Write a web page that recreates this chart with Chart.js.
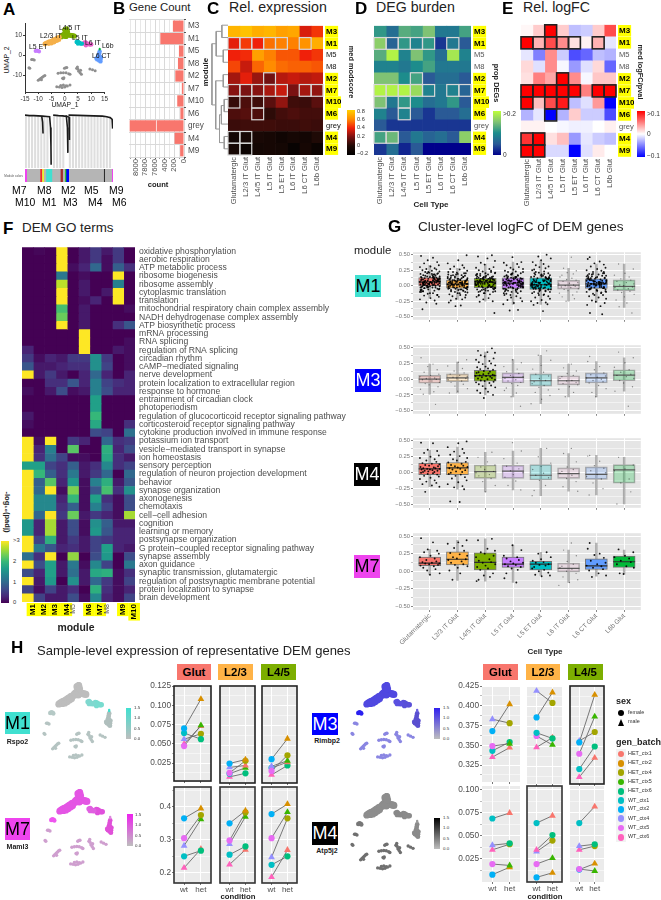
<!DOCTYPE html>
<html lang="en">
<head>
<meta charset="UTF-8">
<title>DEM figure</title>
<script src="https://cdn.jsdelivr.net/npm/chart.js"></script>
<style>
  html, body { margin: 0; padding: 0; background: #fff; }
  #fig { position: relative; width: 661px; height: 900px; overflow: hidden; font-family: "Liberation Sans", Arial, sans-serif; }
  #fig canvas { position: absolute; }
  .t { position: absolute; white-space: nowrap; line-height: 1; }
  .chip { position: absolute; display: flex; align-items: center; justify-content: center; }
</style>
</head>
<body>
<div id="fig"></div>
<script>
// ---------- data ----------
const modules = ['M3','M1','M5','M8','M2','M7','M10','M6','grey','M4','M9'];
const marked = ['M1','M2','M3','M4','M6','M7','M9','M10'];
const cellTypes = ['Glutamatergic','L2/3 IT Glut','L4/5 IT Glut','L5 IT Glut','L5 ET Glut','L6 IT Glut','L6 CT Glut','L6b Glut'];

const geneModules = ['M3','M1','M5','M8','M2','M7','M10','M6','grey','M4','M9'];
const geneCounts = [230,490,105,125,180,45,140,75,8124,195,80];
const countTickText = {0:'0',200:'200',400:'400',600:'7600',800:'7800',1000:'8000'};

const relExpr = [
  [.72,.76,.70,.72,.66,.68,.36,.44],
  [.38,.45,.40,.55,.58,.58,.62,.70],
  [.40,.42,.66,.58,.50,.50,.40,.44],
  [.47,.33,.53,.60,.54,.52,.52,.50],
  [.27,.38,.25,.18,.30,.33,.30,.32],
  [.22,.20,.22,.28,.33,.20,.27,.24],
  [.05,.10,.07,.13,.24,.07,.06,.13],
  [.10,.12,.10,.03,.08,.10,.08,.08],
  [.06,.07,.07,.07,.06,.06,.07,.06],
  [-.08,-.05,-.04,-.06,-.10,-.06,-.08,.00],
  [-.05,-.12,-.07,-.06,-.07,-.15,-.06,-.13]
];
const relExprBoxes = [[1,0],[1,1],[1,2],[1,3],[1,4],[1,6],[4,3],[5,0],[5,1],[5,2],[5,3],[5,4],[5,6],[5,7],[6,0],[6,2],[7,2],[9,0],[9,1],[10,0],[10,1]];

const degBurden = [
  [.11,.07,.13,.12,.15,.08,.08,.12],
  [.16,.06,.11,.09,.11,.03,.08,.05],
  [.13,.19,.09,.15,.11,.07,.18,.09],
  [.09,.09,.08,.10,.12,.08,.08,.08],
  [.15,.15,.10,.12,.05,.07,.07,.05],
  [.19,.19,.19,.17,.09,.08,.09,.06],
  [.15,.08,.11,.10,.07,.08,.11,.05],
  [.09,.05,.09,.05,.03,.05,.05,.07],
  [.05,.03,.03,.03,.03,.03,.03,.03],
  [.12,.14,.05,.08,.06,.07,.05,.16],
  [.03,.07,.02,.05,0,0,0,0]
];
const degBoxes = [[1,0],[1,1],[1,2],[1,3],[1,4],[1,6],[4,3],[5,0],[5,1],[5,2],[5,3],[5,4],[5,6],[5,7],[6,0],[6,2],[7,2],[9,0],[9,1]];

const relLogFC = [
  [.003,.02,.1,.02,-.025,-.02,.02,.07],
  [.1,.03,.07,.045,.012,.005,.03,-.01],
  [-.01,-.05,.045,-.02,-.07,-.06,-.025,-.03],
  [.015,-.012,.045,-.003,-.04,-.012,.015,-.06],
  [.012,.05,.035,.1,.045,-.003,.022,.022],
  [.1,.1,.1,.1,.1,.05,.1,.1],
  [.1,.025,.07,.09,-.025,-.012,.04,-.1],
  [-.03,-.01,-.1,-.03,.02,-.02,-.02,-.07],
  [.005,.005,0,-.003,-.006,-.006,0,.006],
  [.08,.1,.012,.025,-.04,-.01,-.02,-.025],
  [.1,.1,-.015,-.015,-.1,-.012,.008,0]
];
const logFCBoxes = [[0,2],[1,0],[1,1],[1,2],[1,3],[1,4],[1,6],[4,3],[5,0],[5,1],[5,2],[5,3],[5,4],[5,6],[5,7],[6,0],[6,2],[6,3],[7,2],[9,0],[9,1],[10,0],[10,1]];

const goModules = ['M1','M2','M3','M4','M5','M6','M7','M8','M9','M10'];
const goTerms = ['oxidative phosphorylation','aerobic respiration','ATP metabolic process','ribosome biogenesis','ribosome assembly','cytoplasmic translation','translation','mitochondrial respiratory chain complex assembly','NADH dehydrogenase complex assembly','ATP biosynthetic process','mRNA processing','RNA splicing','regulation of RNA splicing','circadian rhythm','cAMP\u2212mediated signaling','nerve development','protein localization to extracellular region','response to hormone','entrainment of circadian clock','photoperiodism','regulation of glucocorticoid receptor signaling pathway','corticosteroid receptor signaling pathway','cytokine production involved in immune response','potassium ion transport','vesicle\u2212mediated transport in synapse','ion homeostasis','sensory perception','regulation of neuron projection development','behavior','synapse organization','axonogenesis','chemotaxis','cell\u2212cell adhesion','cognition','learning or memory','postsynapse organization','G protein\u2212coupled receptor signaling pathway','synapse assembly','axon guidance','synaptic transmission, glutamatergic','regulation of postsynaptic membrane potential','protein localization to synapse','brain development'];
const goValues = [
  [0,.05,0,3,0,.2,.5,.2,.5,0],
  [0,0,0,3,0,.2,.5,.1,.5,0],
  [0,0,0,3,.1,.3,1,.1,.9,.4],
  [0,0,0,1.2,0,.1,0,0,3,0],
  [0,0,0,2.7,0,.2,0,0,1.3,0],
  [0,0,0,3,0,.2,0,.2,3,0],
  [0,0,0,3,0,.1,.3,0,3,0],
  [0,0,0,2.1,0,.2,0,0,0,.1],
  [0,0,0,2.3,0,.2,0,0,0,0],
  [0,0,0,3,0,.2,0,0,.4,.8],
  [0,0,0,0,0,3,0,0,0,0],
  [0,0,0,0,0,3,0,0,0,.1],
  [.3,0,0,0,0,3,0,0,.2,.1],
  [.5,.1,.3,.2,.5,.5,1.5,.5,0,.1],
  [.8,.2,.2,.3,.4,.4,1.5,.6,0,.1],
  [3,.2,.5,.2,0,.3,1,.3,0,.3],
  [0,0,.4,.4,.8,.3,1.3,.6,.4,.3],
  [.1,0,.2,.7,.1,.2,1.3,.7,.3,.3],
  [0,0,0,0,0,0,1.7,0,0,0],
  [0,0,0,0,0,0,1.7,0,0,0],
  [.2,0,0,0,0,0,2,0,0,0],
  [.1,0,0,0,0,0,1.8,0,0,.4],
  [0,0,0,0,0,0,.7,.6,0,1.1],
  [3,.1,3,0,.5,.3,0,1,.4,.5],
  [3,.3,1.3,0,2.2,0,0,1.9,.3,.7],
  [3,.4,1.1,.6,.1,.1,0,1.8,.4,.2],
  [1.7,1.7,.6,.4,.9,.2,.4,1.4,.4,.6],
  [3,2,.9,.4,1.2,.2,.5,1,0,1],
  [3,.9,2.2,.3,1.6,.1,1.3,1.9,.2,.8],
  [3,1,3,.1,2.4,.1,.8,2.1,.4,1.5],
  [3,1.4,1.4,.3,2,.1,1.7,.4,.1,.7],
  [3,1.4,1.4,.4,.9,.1,1.3,.6,.1,.7],
  [3,1,3,.5,2.3,.2,.5,.3,.1,2.6],
  [1.6,.3,2.6,.2,.7,.1,1.5,.9,.2,.2],
  [1.6,.3,2.6,.2,.7,.1,1.6,.8,.3,.3],
  [3,.6,1.9,.2,.5,.2,.6,.5,.3,.3],
  [3,1.2,.8,.3,.4,.2,.6,1.7,.3,.2],
  [1.1,.4,3,0,2.5,0,.7,1.6,0,.7],
  [3,.7,1.7,.2,1.2,.1,1.4,.6,0,1.2],
  [.7,.3,1.7,.2,1.1,.2,1.8,1.9,.1,.4],
  [3,.2,1.6,0,1.5,.2,1,.5,.1,.6],
  [.6,.1,.6,.2,.4,0,1.9,.4,.1,.3],
  [3,.6,.2,.2,.7,.1,1.4,.3,.1,.6]
];

// UMAP clusters
const umapL45 = [[-1,10],[-.5,10.5],[0,11],[.5,12.5],[0,13],[.7,13.5],[1,11],[1.5,10.3],[2.2,10.2],[3,10],[3.6,9.8],[.5,9.6],[-1.2,9.5],[0,9.8],[1,12.2]];
const umapL23 = [[-7.5,5.8],[-7,6.2],[-6.5,6.5],[-6,6.8],[-5.5,7],[-5,7.3],[-4.5,7.6],[-4,8],[-3.5,8.3],[-3,8.6],[-2.5,9],[-2,9.2],[-6,6],[-5,6.2],[-4,6.8],[-3,7.5],[-2.2,8]];
const umapL5IT = [[4.5,6.8],[5,7],[5.5,6.5],[6,6],[6.5,6],[5,6]];
const umapL6IT = [[7,6],[7.5,6.6],[8,6.5],[8.5,6],[9,5.8],[9.5,5.5],[10,5.6],[8,5.2]];
const umapL5ET = [[-11,2.2],[-10.5,2.5],[-10,2.3],[-9.7,2]];
const umapL6b = [[13.2,3],[13.2,3.4]];
const umapL6CT = [[13.2,2],[13,1],[12.8,0],[12.5,-1],[12.3,-2],[13,-2.5],[13.5,-2],[13.7,-1],[13.2,-.5],[12,-1.5],[13.5,-3]];
const umapOther = [[-12.5,-2],[-12,-2],[-11.5,-2.3],[-13.5,-6.2],[-13.2,-6.5],[-10,-12.5],[-9.5,-12],[-9,-11.5],[-8.5,-11],[-8,-10.5],[-7.5,-10.2],[-8.8,-12.3],[-2.5,-9],[-1.5,-8.8],[-.5,-8.7],[.5,-8.8],[1.5,-9.2],[2,-9.5],[-.8,-11.5],[-.5,-11.8],[-.3,-11.3],[-.1,-6.5],[.4,-6.2],[.8,-6.1],[4.5,-6.5],[5,-7],[5.3,-8],[5.8,-8.7],[6.3,-9.5],[6,-7.5],[4.8,-5.8],[9.5,-6.8],[10.5,-7.3],[11.5,-7.8],[-3,-15.8],[-2,-16],[-1,-16.2],[0,-16],[1,-15.5],[2,-15],[-1.5,-15.2],[-.5,-15],[.5,-15.3]];
const umapClusters = [umapOther,umapL23,umapL45,umapL5IT,umapL6IT,umapL5ET,umapL6b,umapL6CT];
const umapColors = ['#8f8f8f','#f5b04a','#7cae00','#00bfc4','#e85fc8','#c77cff','#00ba38','#619cff'];
const rspo2Colors = ['#b5c4c2','#bdbdbd','#bdbdbd','#7fd8cf','#78dccf','#b5c9c6','#40e0d0','#b0bfbd'];
const maml3Colors = ['#cf9fcf','#e455e4','#e455e4','#e060e0','#e050dc','#ee55ee','#dd88dd','#e050d8'];
const rimbp2Colors = ['#8a86e2','#5048e0','#5048e0','#5a50e0','#5a50d8','#2a20f0','#6a60e0','#5a4fd0'];
const atp5j2Colors = ['#6f6f6f','#8d8d8d','#8d8d8d','#888888','#8a8a8a','#777777','#999999','#8a8a8a'];

// dendrogram of panel A (x 0..100, height 0..1)
const dendroStripes = [1,4.5,8,11.5,15,18.5,22,25.5,33,36.5,40,43.5,51,54.5,58,61.5,65,68.5,72,75.5,79,82.5,86,89.5,93,96.5];
const dendroLeft = [[0,.98],[5,.97],[10,.97],[15,.965],[20,.96],[25,.955],[28,.95],[29,.75],[29.5,.4],[29.7,.06]];
const dendroBranch = [[19,.96],[20,.85],[20.5,.64]];
const dendroMid = [[32,.98],[38,.97],[43,.965],[47,.955],[48.2,.75],[48.7,.28]];
const dendroMid2 = [[46,.97],[50,.94],[50.5,.52]];
const dendroRight = [[49.4,.98],[60,.975],[78,.965],[88,.96],[93,.95],[97,.93],[99,.9],[99.6,.73]];
const stripWidths = [5,40,4,2,4,7,18,25,7,7,3,8,104,3,21,4];
const stripColors = ['#ee44ee','#b5b5b5','#ff0000','#b5b5b5','#ffff00','#b5b5b5','#40e0d0','#b5b5b5','#a52a2a','#b5b5b5','#00cc00','#0000ff','#b5b5b5','#222222','#b5b5b5','#ee44ee'];

// merges of the module tree in panel C: row a, height a, row b, height b, join height
const treeMerges = [[0,0,1,0,13],[2,0,3,0,10],[.5,13,2.5,10,25],[4,0,5,0,10],[6,0,7,0,8],[6.5,8,8,0,14],[9,0,10,0,8],[7.25,14,9.5,8,18],[4.5,10,8.4,18,26],[1.5,25,6.45,26,34]];

// cluster-level logFC: q1, median, q3, low whisker, high whisker
const m1Boxes = [[-.005,.06,.13,-.2,.33],[-.04,.025,.09,-.22,.28],[-.03,.06,.12,-.25,.35],[-.045,.04,.125,-.3,.38],[-.06,.015,.125,-.3,.4],[-.055,.01,.085,-.25,.28],[-.045,.03,.11,-.27,.35],[-.08,-.01,.095,-.35,.35]];
const m3Boxes = [[-.065,0,.06,-.24,.24],[-.04,.02,.085,-.22,.27],[-.03,.055,.14,-.25,.43],[-.06,.03,.1,-.28,.31],[-.11,-.025,.085,-.39,.38],[-.09,-.025,.055,-.28,.24],[-.06,.02,.1,-.28,.28],[-.025,.065,.15,-.19,.34]];
const m4Boxes = [[-.03,.06,.145,-.22,.35],[-.03,.075,.16,-.26,.4],[-.09,.015,.12,-.3,.32],[-.09,.025,.115,-.27,.34],[-.115,-.04,.125,-.36,.38],[-.09,-.015,.075,-.29,.3],[-.105,-.025,.09,-.35,.27],[-.165,.045,.125,-.49,.24]];
const m7Boxes = [[.08,.115,.2,-.05,.31],[.09,.17,.275,-.13,.44],[.02,.125,.26,-.14,.46],[.055,.1,.2,-.16,.37],[.02,.1,.14,-.06,.27],[-.01,.04,.115,-.16,.3],[.025,.075,.175,-.07,.4],[.055,.135,.215,-.04,.3]];
const m1Strong = [1,1,1,1,1,0,1,0];
const m3Strong = [0,0,1,0,0,0,0,0];
const m4Strong = [1,1,0,0,0,0,0,0];
const m7Strong = [1,1,1,1,1,0,1,1];
const boxColors = ['#F8766D','#FFB347','#7CAE00','#C77CFF','#00BFC4','#F0B8D8','#619CFF','#00BA38'];

const jitterX = [-.31,.12,-.07,.27,-.2,.33,.03,-.35,.18,-.12,.24,-.26,.08,.35,-.16,-.02,.3,-.33,.15,-.23,.21,-.09,.36,.01,-.29,.1,-.18,.28,-.05,.17,-.24];

// the thick middle of the dense M1 clouds
const m1Core = [.14,.02,.09,-.03,.11,.05,-.06,.17,.01,.07,-.02,.12,.04,-.08,.15,.03,.08,-.04,.1,.06,-.1,.18,0,.13,-.01,.05,-.05,.16,.02,.09,-.07,.12,.04,-.03,.2,.07,-.12,.1,.01,.06,-.15,.22,.03,-.09,.14,.08,-.02,.19,.05,-.06];
const m1Pts = [
  [.48,.45,.41,.38,.36,.33,.31,.3,.28,.27,.26,.25,.24,.23,.22,.21,.2,.19,.18,.17,.16,.15,.15,.14,.13,.13,.12,.11,.11,.1,.1,.09,.09,.08,.08,.07,.07,.06,.06,.06,.05,.05,.05,.04,.04,.03,.03,.02,.02,.01,.01,0,0,-.01,-.01,-.02,-.03,-.04,-.05,-.06,-.08,-.09,-.1,-.12,-.13,-.15,-.16,-.18,-.2,-.22,-.24,-.27,-.29,-.38,.19,.12,.08,.03,.1,-.03],
  [.49,.41,.36,.33,.31,.29,.27,.26,.24,.22,.21,.2,.18,.17,.16,.14,.13,.12,.11,.1,.09,.09,.08,.07,.06,.06,.05,.05,.04,.04,.03,.03,.02,.02,.01,.01,0,0,-.01,-.02,-.02,-.03,-.04,-.05,-.06,-.07,-.08,-.1,-.11,-.12,-.14,-.15,-.17,-.19,-.21,-.22,-.24,-.27,-.32,-.33,.06,.02,-.04,.11],
  [.49,.47,.44,.4,.37,.34,.3,.29,.27,.25,.24,.23,.21,.2,.19,.18,.16,.15,.14,.13,.13,.12,.11,.1,.1,.09,.09,.08,.07,.07,.06,.06,.05,.05,.04,.03,.03,.02,.01,0,-.01,-.02,-.03,-.04,-.05,-.06,-.08,-.09,-.1,-.12,-.14,-.16,-.18,-.2,-.22,-.25,-.26,-.44,.08,.04,.11,-.01],
  [.46,.38,.37,.35,.33,.3,.29,.27,.26,.24,.23,.22,.2,.18,.17,.16,.15,.14,.13,.12,.12,.11,.1,.09,.08,.08,.07,.06,.05,.05,.04,.03,.02,.01,.01,0,-.01,-.02,-.03,-.04,-.05,-.06,-.08,-.09,-.1,-.12,-.13,-.15,-.17,-.19,-.2,-.23,-.25,-.28,-.3,-.39,-.4,.06,.03],
  [.5,.47,.44,.41,.38,.35,.33,.31,.3,.28,.26,.25,.23,.21,.2,.18,.17,.15,.14,.13,.12,.11,.1,.09,.08,.06,.05,.04,.03,.02,.02,.01,0,-.01,-.02,-.03,-.04,-.05,-.06,-.07,-.09,-.1,-.12,-.14,-.15,-.17,-.19,-.21,-.23,-.25,-.27,-.28,-.3,-.31,-.41,.07,.01,-.04],
  [.46,.28,.24,.21,.19,.17,.14,.12,.1,.09,.07,.05,.04,.03,.01,0,-.01,-.02,-.03,-.05,-.06,-.08,-.1,-.12,-.15,-.18,-.21,-.25],
  [.46,.43,.39,.36,.34,.31,.29,.27,.25,.24,.22,.2,.19,.18,.16,.15,.13,.12,.11,.1,.09,.08,.07,.06,.05,.05,.04,.03,.03,.02,.01,0,-.01,-.02,-.03,-.04,-.05,-.06,-.08,-.1,-.11,-.13,-.15,-.17,-.19,-.21,-.24,-.26,-.28,-.31,-.33,-.44,-.46,.04,.08,.01],
  [.35,.27,.2,.17,.14,.11,.09,.07,.05,.03,.01,0,-.02,-.03,-.05,-.07,-.09,-.11,-.14,-.18,-.23,-.28,-.34,-.44]
];
const m3Pts = [
  [.34,.24,.2,.15,.11,.08,.06,.04,.02,.01,0,-.01,-.03,-.05,-.07,-.09,-.12,-.16,-.2,-.24,-.4],
  [.31,.27,.21,.17,.13,.1,.08,.06,.04,.03,.02,.01,-.01,-.03,-.05,-.08,-.11,-.15,-.19,-.22],
  [.49,.45,.43,.42,.38,.36,.33,.31,.29,.27,.25,.24,.22,.2,.19,.17,.16,.15,.13,.12,.11,.1,.09,.08,.07,.06,.06,.05,.05,.04,.03,.02,.01,0,-.01,-.02,-.03,-.04,-.05,-.06,-.08,-.1,-.11,-.13,-.15,-.18,-.2,-.22,-.25,-.3],
  [.31,.26,.2,.16,.12,.09,.06,.04,.03,.01,-.01,-.03,-.05,-.07,-.1,-.14,-.18,-.22,-.28,-.43],
  [.45,.38,.3,.22,.16,.11,.08,.05,.01,-.02,-.04,-.07,-.1,-.13,-.17,-.21,-.26,-.32,-.39],
  [.24,.18,.13,.09,.06,.04,.01,-.02,-.03,-.05,-.07,-.09,-.12,-.16,-.21,-.28],
  [.36,.28,.2,.15,.1,.07,.05,.03,.02,0,-.02,-.04,-.06,-.1,-.15,-.21,-.28],
  [.43,.34,.26,.19,.15,.11,.08,.06,.04,.01,-.02,-.06,-.12,-.19,-.43]
];
const m4Pts = [
  [.47,.46,.36,.34,.31,.27,.25,.23,.21,.19,.17,.15,.14,.13,.12,.11,.1,.09,.08,.07,.07,.06,.06,.05,.05,.04,.03,.03,.02,.01,.01,0,-.01,-.02,-.03,-.05,-.06,-.08,-.1,-.12,-.14,-.16,-.18,-.2,-.22,-.3],
  [.49,.46,.4,.37,.33,.31,.28,.26,.23,.21,.19,.17,.16,.14,.12,.11,.1,.09,.08,.07,.06,.05,.04,.02,.01,0,-.02,-.03,-.05,-.07,-.09,-.12,-.15,-.18,-.21,-.23,-.26,-.45,-.46],
  [.32,.24,.17,.12,.09,.05,.02,0,-.03,-.05,-.09,-.14,-.2,-.3],
  [.47,.34,.22,.15,.1,.06,.03,0,-.03,-.07,-.13,-.2,-.27],
  [.38,.25,.15,.1,.05,-.01,-.04,-.08,-.12,-.2,-.28,-.36],
  [.38,.3,.17,.09,.05,.02,-.01,-.04,-.09,-.14,-.22,-.29],
  [.27,.26,.18,.11,.07,.03,0,-.03,-.06,-.1,-.16,-.25,-.35],
  [.24,.12,.06,.03,-.1,-.16,-.3,-.49]
];
const m7Pts = [
  [.47,.41,.31,.29,.27,.25,.22,.2,.18,.16,.14,.13,.12,.11,.11,.1,.09,.08,.07,.05,.03,.01,-.03,-.05],
  [.44,.41,.39,.36,.33,.29,.26,.24,.22,.2,.18,.17,.16,.14,.12,.1,.09,.07,.05,.01,-.03,-.12],
  [.46,.44,.32,.29,.27,.25,.22,.2,.17,.15,.13,.12,.1,.08,.06,.04,.02,-.03,-.06,-.08,-.12,-.14],
  [.37,.3,.22,.2,.18,.16,.14,.12,.11,.1,.09,.07,.06,.04,.02,-.03,-.1,-.16],
  [.27,.25,.2,.17,.15,.13,.12,.1,.09,.08,.06,.04,.02,0,-.02,-.05,-.06,-.07],
  [.4,.3,.22,.14,.1,.07,.05,.03,0,-.03,-.08,-.12,-.16,-.2],
  [.4,.32,.25,.23,.19,.15,.12,.1,.08,.07,.05,.03,.01,-.03,-.06,-.08],
  [.31,.27,.22,.2,.18,.15,.13,.1,.07,.05,-.03,-.04]
];

// sample-level pairs: wt batch, wt value, het batch, het value
const batchNames = ['HET_ctx1','HET_ctx2','HET_ctx4','HET_ctx5','HET_ctx6','WT_ctx1','WT_ctx2','WT_ctx4','WT_ctx5','WT_ctx6'];
const batchKeys = ['H1','H2','H4','H5','H6','W1','W2','W4','W5','W6'];
const batchColors = ['#F8766D','#D89000','#A3A500','#39B600','#00BF7D','#00BFC4','#00B0F6','#9590FF','#E76BF3','#FF62BC'];
const maleBatches = ['H1','H2','H5','W4','W6'];

const rspo2Glut = [['W2',.070,'H2',.108],['W1',.064,'H6',.056],['W4',.056,'H4',.063],['W5',.047,'H5',.074],['W6',.050,'H1',.073]];
const rspo2L23 = [['W2',.0265,'H2',.0315],['W5',.0145,'H4',.030],['W4',.0215,'H1',.024],['W1',.0135,'H5',.021],['W6',.0095,'H6',.014]];
const rspo2L45 = [['W2',.032,'H2',.058],['W5',.017,'H4',.037],['W4',.023,'H5',.030],['W1',.021,'H1',.028],['W6',.012,'H6',.024]];
const maml3Glut = [['W2',.365,'H2',.395],['W5',.305,'H4',.375],['W4',.282,'H5',.362],['W1',.250,'H6',.267],['W6',.215,'H1',.272]];
const maml3L23 = [['W2',.350,'H2',.388],['W5',.298,'H4',.383],['W4',.287,'H5',.370],['W1',.255,'H6',.280],['W6',.225,'H1',.270]];
const maml3L45 = [['W2',.378,'H2',.408],['W5',.305,'H5',.384],['W4',.247,'H4',.365],['W1',.224,'H6',.250],['W6',.187,'H1',.269]];
const rimbp2Glut = [['W2',.368,'H2',.402],['W4',.383,'H4',.378],['W5',.349,'H5',.352],['W1',.343,'H6',.354],['W6',.335,'H1',.347]];
const rimbp2L23 = [['W2',.386,'H2',.417],['W4',.419,'H4',.404],['W1',.367,'H6',.360],['W5',.363,'H5',.352],['W6',.349,'H1',.361]];
const rimbp2L45 = [['W2',.355,'H2',.414],['W5',.341,'H5',.387],['W4',.357,'H4',.368],['W1',.322,'H6',.350],['W6',.312,'H1',.336]];
const atp5j2Glut = [['W1',.069,'H1',.075],['W4',.040,'H6',.042],['W6',.035,'H4',.041],['W5',.0195,'H5',.018],['W2',.008,'H2',.016]];
const atp5j2L23 = [['W1',.064,'H1',.072],['W6',.035,'H6',.051],['W4',.033,'H4',.045],['W5',.0195,'H5',.026],['W2',.005,'H2',.010]];
const atp5j2L45 = [['W1',.064,'H1',.082],['W4',.039,'H6',.041],['W6',.035,'H4',.039],['W5',.014,'H5',.012],['W2',.0135,'H2',.020]];

// ---------- helpers ----------
const fig = document.getElementById('fig');
const FONT = '"Liberation Sans", Arial, sans-serif';
Chart.defaults.font.family = FONT;
Chart.defaults.animation = false;

function txt(s, x, y, o = {}) {
  const d = document.createElement('div');
  d.className = 't';
  d.textContent = s;
  d.style.left = x + 'px';
  d.style.top = y + 'px';
  d.style.fontSize = (o.size || 8) + 'px';
  d.style.color = o.color || '#000';
  if (o.bold) d.style.fontWeight = 'bold';
  const ax = o.anchor === 'center' ? '-50%' : o.anchor === 'right' ? '-100%' : '0';
  d.style.transform = `translate(${ax},-50%)` + (o.rot ? ` rotate(${o.rot}deg)` : '');
  fig.appendChild(d);
  return d;
}

function chip(s, x0, y0, x1, y1, bg, color, size, bold) {
  const d = document.createElement('div');
  d.className = 'chip';
  d.textContent = s;
  Object.assign(d.style, { left: x0 + 'px', top: y0 + 'px', width: (x1 - x0) + 'px', height: (y1 - y0) + 'px', background: bg, color: color, fontSize: size + 'px', fontWeight: bold ? 'bold' : 'normal' });
  fig.appendChild(d);
}

function ramp(stops) {
  const rgb = h => [1, 3, 5].map(i => parseInt(h.substr(i, 2), 16));
  return v => {
    if (v <= stops[0][0]) return stops[0][1];
    for (let i = 1; i < stops.length; i++) {
      if (v <= stops[i][0]) {
        const t = (v - stops[i - 1][0]) / (stops[i][0] - stops[i - 1][0]);
        const a = rgb(stops[i - 1][1]), b = rgb(stops[i][1]);
        return `rgb(${a.map((c, k) => Math.round(c + (b[k] - c) * t)).join(',')})`;
      }
    }
    return stops[stops.length - 1][1];
  };
}

function colorbar(x0, y0, x1, y1, stops, labels, size, lx) {
  const lo = stops[0][0], hi = stops[stops.length - 1][0];
  const css = stops.map(s => `${s[1]} ${((s[0] - lo) / (hi - lo) * 100).toFixed(1)}%`).join(',');
  const d = document.createElement('div');
  Object.assign(d.style, { position: 'absolute', left: x0 + 'px', top: y0 + 'px', width: (x1 - x0) + 'px', height: (y1 - y0) + 'px', background: `linear-gradient(to top,${css})` });
  fig.appendChild(d);
  labels.forEach(l => txt(l[0], lx, l[1], { size: size, color: '#333' }));
}

// canvas whose plot area lands on [x0,y0,x1,y1]; axes: which sides carry an axis
function place(x0, y0, x1, y1, m, axes = '') {
  const c = document.createElement('canvas');
  const w = x1 - x0 + m.l + m.r, h = y1 - y0 + m.t + m.b;
  c.width = Math.round(w); c.height = Math.round(h);
  Object.assign(c.style, { left: (x0 - m.l) + 'px', top: (y0 - m.t) + 'px', width: Math.round(w) + 'px', height: Math.round(h) + 'px' });
  fig.appendChild(c);
  return { canvas: c, padding: { left: axes.includes('l') ? 0 : m.l, right: axes.includes('r') ? 0 : m.r, top: axes.includes('t') ? 0 : m.t, bottom: axes.includes('b') ? 0 : m.b } };
}
const fit = size => s => { if (s.isHorizontal()) s.height = size; else s.width = size; };
const baseOpts = padding => ({ responsive: false, animation: false, events: [], layout: { padding }, plugins: { legend: { display: false }, tooltip: { enabled: false } } });

function panel(bg, box, lw) {
  return {
    id: 'panel',
    beforeDraw(chart) {
      const a = chart.chartArea, c = chart.ctx;
      c.save(); c.fillStyle = bg; c.fillRect(a.left, a.top, a.width, a.height); c.restore();
    },
    afterDraw(chart) {
      if (!box) return;
      const a = chart.chartArea, c = chart.ctx;
      c.save(); c.strokeStyle = box; c.lineWidth = lw || 1.5; c.strokeRect(a.left, a.top, a.width, a.height); c.restore();
    }
  };
}

// major ticks plus the minor ones half a step between them
function gridTicks(min, max, majors) {
  const step = majors[1] - majors[0], out = [];
  for (let k = -1; k <= majors.length * 2 + 2; k++) {
    const v = majors[0] + k * step / 2;
    if (v < min - 1e-9 || v > max + 1e-9) continue;
    out.push({ value: v, major: k >= 0 && k % 2 === 0 && k / 2 < majors.length });
  }
  return out;
}

function heatmap(box, m, rows, cols, vals, colorOf, cellBoxes, boxColor, boxWidth, o) {
  const p = place(box[0], box[1], box[2], box[3], m, 'rb');
  new Chart(p.canvas, {
    type: 'bar',
    data: {
      labels: rows,
      datasets: cols.map((c, j) => ({
        label: c,
        data: rows.map(() => 1),
        backgroundColor: rows.map((r, i) => colorOf(vals[i][j])),
        stack: 'cells', barPercentage: 1, categoryPercentage: 1, borderWidth: 0
      }))
    },
    options: Object.assign(baseOpts(p.padding), {
      indexAxis: 'y',
      scales: {
        x: {
          type: 'linear', stacked: true, min: 0, max: cols.length, offset: false,
          grid: { display: false, drawTicks: false, offset: false }, border: { display: false },
          afterBuildTicks: s => { s.ticks = cols.map((c, j) => ({ value: j + .5 })); },
          afterFit: fit(m.b),
          ticks: o.xTicks(cols)
        },
        y: {
          stacked: true, position: 'right',
          grid: { display: false, drawTicks: false }, border: { display: false },
          afterFit: fit(m.r),
          ticks: o.yTicks(rows)
        }
      }
    }),
    plugins: [{
      id: 'cellBoxes',
      afterDatasetsDraw(chart) {
        if (!cellBoxes) return;
        const c = chart.ctx;
        c.save(); c.strokeStyle = boxColor; c.lineWidth = boxWidth;
        cellBoxes.forEach(([r, col]) => {
          const el = chart.getDatasetMeta(col).data[r];
          c.strokeRect(el.base, el.y - el.height / 2, el.x - el.base, el.height);
        });
        c.restore();
      }
    }]
  });
}

const cellXTicks = cols => ({
  autoSkip: false, minRotation: 90, maxRotation: 90, padding: 2, color: '#4d4d4d', font: { size: 7.6 },
  callback: v => cols[Math.round(v - .5)]
});
const moduleYTicks = plainColor => rows => ({
  autoSkip: false, padding: 3, crossAlign: 'near',
  font: c => (marked.includes(rows[c.index]) ? { size: 8, weight: 'bold' } : { size: 7.6 }),
  color: c => (marked.includes(rows[c.index]) ? '#000' : plainColor),
  showLabelBackdrop: c => marked.includes(rows[c.index]),
  backdropColor: '#ffff00', backdropPadding: 1,
  callback: (v, i) => rows[i]
});

function umap(box, xr, yr, colors, radii, axes, m) {
  const p = place(box[0], box[1], box[2], box[3], m, axes ? 'lb' : '');
  const ax = (ticks, size) => ({
    type: 'linear', min: ticks.min, max: ticks.max, display: !!axes,
    grid: { drawOnChartArea: false, tickLength: 2, color: '#333' }, border: { color: '#333' },
    afterBuildTicks: s => { s.ticks = ticks.at.map(v => ({ value: v })); },
    afterFit: fit(size), ticks: { autoSkip: false, maxRotation: 0, padding: 1, color: '#333', font: { size: 6.4 }, callback: v => v }
  });
  new Chart(p.canvas, {
    type: 'scatter',
    data: { datasets: umapClusters.map((pts, i) => ({ data: pts.map(q => ({ x: q[0], y: q[1] })), backgroundColor: colors[i], pointRadius: radii[i], borderWidth: 0 })) },
    options: Object.assign(baseOpts(p.padding), { scales: { x: ax(xr, m.b), y: ax(yr, m.l) } })
  });
}

function boxRow(box, boxes, strong, pts, showLabels, core) {
  const m = { l: 32, r: 2, t: 2, b: showLabels ? 44 : 4 };
  const p = place(box[0], box[1], box[2], box[3], m, 'lb');
  const fade = (hex, a) => hex + Math.round(a * 255).toString(16).padStart(2, '0');
  const datasets = [
    { type: 'bar', grouped: false, order: 5, barThickness: 1.8, backgroundColor: 'rgba(120,120,120,.55)', data: boxes.map((b, i) => ({ x: i + 1, y: [b[3], b[4]] })) },
    { type: 'bar', grouped: false, order: 4, barThickness: 22, borderWidth: 1, borderSkipped: false,
      backgroundColor: boxes.map((b, i) => (strong[i] ? boxColors[i] : fade(boxColors[i], .25))),
      borderColor: boxes.map((b, i) => (strong[i] ? '#777777' : '#a8a8a8')),
      data: boxes.map((b, i) => ({ x: i + 1, y: [b[0], b[2]] })) },
    { type: 'scatter', order: 3, pointStyle: 'line', pointRadius: 11, pointBorderWidth: 1.2,
      pointBorderColor: boxes.map((b, i) => (strong[i] ? '#2d2d2d' : '#5a5a5a')),
      data: boxes.map((b, i) => ({ x: i + 1, y: b[1] })) }
  ];
  pts.forEach((ys, i) => {
    const all = core && strong[i] ? ys.concat(core) : ys;
    datasets.push({
      type: 'scatter', order: 1, pointRadius: strong[i] ? .95 : .7, borderWidth: 0,
      backgroundColor: strong[i] ? 'rgba(0,0,0,.9)' : 'rgba(0,0,0,.42)',
      data: all.map((y, k) => ({ x: i + 1 + jitterX[(k + i * 5) % jitterX.length], y }))
    });
  });
  const yMin = -.55, yMax = .54;
  new Chart(p.canvas, {
    type: 'bar',
    data: { datasets },
    options: Object.assign(baseOpts(p.padding), {
      scales: {
        x: {
          type: 'linear', min: .4, max: 8.6, offset: false, afterFit: fit(m.b),
          grid: { offset: false, color: '#fff', lineWidth: 1, tickColor: '#888', tickLength: 2 }, border: { display: false },
          afterBuildTicks: s => { s.ticks = cellTypes.map((c, i) => ({ value: i + 1 })); },
          ticks: { display: showLabels, autoSkip: false, minRotation: 45, maxRotation: 45, padding: 0, color: '#777', font: { size: 6.6 }, callback: v => cellTypes[Math.round(v) - 1] }
        },
        y: {
          type: 'linear', min: yMin, max: yMax, afterFit: fit(m.l),
          grid: { color: '#fff', tickColor: '#888', tickLength: 2, lineWidth: c => (c.tick && c.tick.major ? 1 : .5) }, border: { display: false },
          afterBuildTicks: s => { s.ticks = gridTicks(yMin, yMax, [-.5, -.25, 0, .25, .5]); },
          ticks: { autoSkip: false, padding: 1, color: '#777', font: { size: 5.8 }, callback: (v, i, t) => (t[i].major ? v.toFixed(2).replace('-', '\u2212') : '') }
        }
      }
    }),
    plugins: [panel('#e5e5e5')]
  });
}

function pairPanel(box, pairs, yMin, yMax, majors, digits, o) {
  const m = { l: o.left ? 30 : 2, r: 2, t: 6, b: o.bottom ? 12 : 4 };
  const p = place(box[0], box[1], box[2], box[3], m, 'lb');
  const colorOf = k => batchColors[batchKeys.indexOf(k)];
  const shape = k => (maleBatches.includes(k) ? 'triangle' : 'circle');
  const sized = k => (maleBatches.includes(k) ? 3.9 : 3.1);
  new Chart(p.canvas, {
    type: 'line',
    data: {
      datasets: pairs.map(q => ({
        data: [{ x: 1, y: q[1] }, { x: 2, y: q[3] }],
        borderColor: '#6a6a6a', borderWidth: .9, tension: 0,
        pointStyle: [shape(q[0]), shape(q[2])],
        pointRadius: [sized(q[0]), sized(q[2])],
        pointBackgroundColor: [colorOf(q[0]), colorOf(q[2])],
        pointBorderColor: [colorOf(q[0]), colorOf(q[2])],
        pointBorderWidth: 0
      }))
    },
    options: Object.assign(baseOpts(p.padding), {
      scales: {
        x: {
          type: 'linear', min: .4, max: 2.6, afterFit: fit(m.b),
          grid: { color: '#fff', lineWidth: 1, tickColor: '#777', tickLength: 2 }, border: { display: false },
          afterBuildTicks: s => { s.ticks = [{ value: 1 }, { value: 2 }]; },
          ticks: { display: !!o.bottom, autoSkip: false, maxRotation: 0, padding: 0, color: '#4d4d4d', font: { size: 8 }, callback: v => (v === 1 ? 'wt' : 'het') }
        },
        y: {
          type: 'linear', min: yMin, max: yMax, afterFit: fit(m.l),
          grid: { color: '#fff', tickColor: '#777', tickLength: o.left ? 2 : 0, lineWidth: c => (c.tick && c.tick.major ? 1 : .5) }, border: { display: false },
          afterBuildTicks: s => { s.ticks = gridTicks(yMin, yMax, majors); },
          ticks: { display: !!o.left, autoSkip: false, padding: 1, color: '#4d4d4d', font: { size: 8.3 }, callback: (v, i, t) => (t[i].major ? v.toFixed(digits) : '') }
        }
      }
    }),
    plugins: [panel('#ebebeb', o.box, 1.6)]
  });
}

// ---------- panel A ----------
txt('A', 3, 9, { size: 17, bold: true });
umap([25, 21, 106, 92], { min: -15, max: 15.1, at: [-15, -10, -5, 0, 5, 10, 15] }, { min: -18.5, max: 16, at: [-10, 0, 10] }, umapColors, [1.5, 2.4, 2.6, 2.2, 2.2, 2, 1, 2.2], true, { l: 12, r: 3, t: 2, b: 10 });
txt('UMAP_2', 7, 60, { size: 6.8, anchor: 'center', rot: -90, color: '#222' });
txt('UMAP_1', 65, 105, { size: 6.8, anchor: 'center', color: '#222' });
[['L4/5 IT', 59, 28], ['L2/3 IT', 40, 36], ['L5 ET', 29, 47], ['L5 IT', 72, 38], ['L6 IT', 85, 43], ['L6b', 102, 46], ['L6 CT', 92, 56]]
  .forEach(l => txt(l[0], l[1], l[2], { size: 6.9, color: '#111' }));

(function dendroA() {
  const p = place(25, 114, 113, 168, { l: 3, r: 1, t: 1, b: 1 });
  const pts = a => a.map(q => ({ x: q[0], y: q[1] }));
  const line = a => ({ type: 'line', data: pts(a), borderColor: '#1a1a1a', borderWidth: 1.6, pointRadius: 0, tension: 0, order: 1 });
  new Chart(p.canvas, {
    type: 'bar',
    data: {
      datasets: [
        line(dendroLeft), line(dendroBranch), line(dendroMid), line(dendroMid2), line(dendroRight),
        { type: 'bar', order: 2, barThickness: 1.4, backgroundColor: '#dedede', data: dendroStripes.map(x => ({ x, y: .95 })) }
      ]
    },
    options: Object.assign(baseOpts(p.padding), {
      scales: {
        x: { type: 'linear', min: 0, max: 100, display: false, offset: false, grid: { offset: false } },
        y: { type: 'linear', min: 0, max: 1, display: false }
      }
    })
  });
  const s = place(25, 169, 113, 182, { l: 0, r: 0, t: 0, b: 0 });
  new Chart(s.canvas, {
    type: 'bar',
    data: { labels: ['Module colors'], datasets: stripWidths.map((w, i) => ({ data: [w], backgroundColor: stripColors[i], stack: 's', barPercentage: 1, categoryPercentage: 1, borderWidth: 0 })) },
    options: Object.assign(baseOpts(s.padding), {
      indexAxis: 'y',
      scales: { x: { type: 'linear', stacked: true, min: 0, max: 262, display: false }, y: { stacked: true, display: false } }
    })
  });
  txt('Module colors', 23, 175.5, { size: 3, anchor: 'right', color: '#555' });
})();
[['M7', 12, 191], ['M8', 37, 191], ['M2', 61, 191], ['M5', 84, 191], ['M9', 109, 191], ['M10', 15, 203], ['M1', 42, 203], ['M3', 63, 203], ['M4', 88, 203], ['M6', 112, 203]]
  .forEach(l => txt(l[0], l[1], l[2], { size: 10.4 }));

// ---------- panel B ----------
txt('B', 113, 8, { size: 17, bold: true });
txt('Gene Count', 129, 8, { size: 11.4, color: '#222' });
(function geneBars() {
  const m = { l: 2, r: 22, t: 2, b: 24 };
  const p = place(129, 15, 184, 157, m, 'rb');
  const shown = geneCounts.map(v => (v > 7000 ? v - 7000 : v));
  new Chart(p.canvas, {
    type: 'bar',
    data: {
      labels: geneModules,
      datasets: [
        { data: geneModules.map((g, i) => (g === 'grey' ? [565, 580] : null)), backgroundColor: '#ffffff', grouped: false, order: 1, barPercentage: 1, categoryPercentage: .9 },
        { data: shown, backgroundColor: '#F8766D', grouped: false, order: 2, barPercentage: 1, categoryPercentage: .9 }
      ]
    },
    options: Object.assign(baseOpts(p.padding), {
      indexAxis: 'y',
      scales: {
        x: {
          type: 'linear', min: 0, max: 1138, reverse: true, afterFit: fit(m.b),
          grid: { color: '#d9d9d9', lineWidth: c => (c.index % 2 ? .6 : 1), tickColor: '#555', tickLength: 2 }, border: { display: false },
          afterBuildTicks: s => { s.ticks = [0, 100, 200, 300, 400, 500, 600, 700, 800, 900, 1000, 1100].map(v => ({ value: v })); },
          ticks: { autoSkip: false, minRotation: 90, maxRotation: 90, padding: 0, color: '#4d4d4d', font: { size: 7.6 }, callback: v => countTickText[v] || '' }
        },
        y: {
          position: 'right', afterFit: fit(m.r),
          grid: { color: '#d9d9d9', tickColor: '#555', tickLength: 2 }, border: { display: false },
          ticks: { autoSkip: false, padding: 2, color: '#4d4d4d', font: { size: 8.2 } }
        }
      }
    })
  });
})();
txt('count', 158, 185, { size: 7.6, bold: true, anchor: 'center', color: '#222' });

// ---------- panel C ----------
txt('C', 207, 8, { size: 17, bold: true });
txt('Rel. expression', 229, 7, { size: 14.2, color: '#222' });
const exprStops = [[-.2, '#000000'], [0, '#1f0a06'], [.2, '#7a1212'], [.4, '#f0200a'], [.6, '#ff8c00'], [.8, '#ffd000']];
const logfcStops = [[-.1, '#0000ff'], [0, '#ffffff'], [.1, '#ff0000']];
const degStops = [[0, '#00008b'], [.05, '#2a5a96'], [.1, '#1d8c8c'], [.15, '#7fc274'], [.2, '#bfff3a']];
const viridisStops = [[0, '#440154'], [.33, '#482878'], [.67, '#3e4a89'], [1, '#31688e'], [1.33, '#26828e'], [1.67, '#1f9e89'], [2, '#35b779'], [2.33, '#6ece58'], [2.67, '#b5de2b'], [3, '#fde725']];
heatmap([228, 19, 323, 155], { l: 1, r: 18, t: 1, b: 50 }, modules, cellTypes, relExpr, ramp(exprStops), relExprBoxes, '#d8d8d8', 1.2, { xTicks: cellXTicks, yTicks: moduleYTicks('#111') });
(function tree() {
  const p = place(211, 19, 228, 155, { l: 0, r: 0, t: 0, b: 0 });
  new Chart(p.canvas, {
    type: 'scatter',
    data: { datasets: treeMerges.map(q => ({ data: [{ x: q[1], y: q[0] }, { x: q[4], y: q[0] }, { x: q[4], y: q[2] }, { x: q[3], y: q[2] }], showLine: true, borderColor: '#999', borderWidth: 1, pointRadius: 0 })) },
    options: Object.assign(baseOpts(p.padding), {
      scales: {
        x: { type: 'linear', min: 0, max: 36, reverse: true, display: false },
        y: { type: 'linear', min: -.5, max: 10.5, reverse: true, display: false }
      }
    })
  });
})();
txt('module', 206, 72, { size: 8, bold: true, anchor: 'center', rot: -90, color: '#222' });
colorbar(347, 110, 355, 155, exprStops, [['0.8', 112], ['0.6', 119.5], ['0.4', 128], ['0.2', 137], ['0', 145.5], ['\u22120.2', 154]], 5.6, 357);
txt('med modscore', 351, 72, { size: 7.4, bold: true, anchor: 'center', rot: 90, color: '#222' });

// ---------- panel D ----------
txt('D', 355, 8, { size: 17, bold: true });
txt('DEG burden', 376, 7, { size: 14.2, color: '#222' });
heatmap([374, 19, 471, 155], { l: 1, r: 18, t: 1, b: 50 }, modules, cellTypes, degBurden, ramp(degStops), degBoxes, '#d8d8d8', 1.2, { xTicks: cellXTicks, yTicks: moduleYTicks('#555') });
colorbar(493, 111, 501, 155, degStops, [['>0.2', 113.5], ['0', 155]], 6.6, 503);
txt('prop DEGs', 496, 83, { size: 7.4, bold: true, anchor: 'center', rot: 90, color: '#222' });
txt('Cell Type', 431, 205, { size: 8, bold: true, anchor: 'center', color: '#222' });

// ---------- panel E ----------
txt('E', 502, 8, { size: 17, bold: true });
txt('Rel. logFC', 523, 7, { size: 14.2, color: '#222' });
heatmap([521, 18, 616, 157], { l: 1, r: 18, t: 1, b: 50 }, modules, cellTypes, relLogFC, ramp(logfcStops), logFCBoxes, '#222222', 1.6, { xTicks: cellXTicks, yTicks: moduleYTicks('#555') });
colorbar(637, 111, 645, 157, logfcStops, [['>0.1', 113.5], ['0', 134], ['\u22120.1', 155.5]], 6.6, 647);
txt('med logFC/pval', 640, 72, { size: 7.4, bold: true, anchor: 'center', rot: 90, color: '#222' });

// ---------- panel F ----------
txt('F', 3, 228, { size: 17, bold: true });
txt('DEM GO terms', 22, 228, { size: 13.4, color: '#222' });
heatmap([22, 239.3, 135, 602.7], { l: 1, r: 214, t: 1, b: 24 }, goTerms, goModules, goValues, ramp(viridisStops), null, null, 0, {
  xTicks: cols => ({
    autoSkip: false, minRotation: 90, maxRotation: 90, padding: 2,
    font: c => (marked.includes(cols[c.index]) ? { size: 8, weight: 'bold' } : { size: 7 }),
    color: c => (marked.includes(cols[c.index]) ? '#000' : '#555'),
    showLabelBackdrop: c => marked.includes(cols[c.index]), backdropColor: '#ffff00', backdropPadding: 1,
    callback: v => cols[Math.round(v - .5)]
  }),
  yTicks: rows => ({ autoSkip: false, padding: 4, crossAlign: 'near', color: '#4d4d4d', font: { size: 8.6 }, callback: (v, i) => rows[i] })
});
colorbar(1, 541, 9, 603, viridisStops, [['>3', 541], ['2', 562], ['1', 583], ['0', 603]], 5.8, 13);
txt('-log\u2081\u2080(padj)', 7, 512, { size: 7.6, bold: true, anchor: 'center', rot: 90, color: '#222' });
txt('module', 76, 628, { size: 10.4, bold: true, anchor: 'center', color: '#222' });

// ---------- panel G ----------
txt('G', 388, 226, { size: 17, bold: true });
txt('Cluster-level logFC of DEM genes', 418, 227, { size: 13.6, color: '#222' });
txt('module', 354, 251, { size: 11.4, color: '#222' });
boxRow([413, 242, 651, 328], m1Boxes, m1Strong, m1Pts, false, m1Core);
boxRow([413, 335, 651, 422], m3Boxes, m3Strong, m3Pts, false);
boxRow([413, 428, 651, 516], m4Boxes, m4Strong, m4Pts, false);
boxRow([413, 523, 651, 610], m7Boxes, m7Strong, m7Pts, true);
chip('M1', 355, 275, 381, 297, '#40e0d0', '#000', 18);
chip('M3', 355, 369, 381, 392, '#0000ff', '#fff', 18);
chip('M4', 354, 463, 380, 486, '#000000', '#fff', 18);
chip('M7', 354, 555, 380, 578, '#ee44ee', '#000', 18);
txt('Cell Type', 545, 652, { size: 8, bold: true, anchor: 'center', color: '#222' });

// ---------- panel H ----------
txt('H', 11, 647, { size: 17, bold: true });
txt('Sample-level expression of representative DEM genes', 37, 650, { size: 13, color: '#222' });
chip('M1', 5, 712, 30, 734, '#40e0d0', '#000', 18);
txt('Rspo2', 17.5, 741, { size: 7, bold: true, anchor: 'center', color: '#222' });
chip('M7', 5, 818, 30, 840, '#ee44ee', '#000', 18);
txt('Maml3', 17.5, 846, { size: 7, bold: true, anchor: 'center', color: '#222' });
chip('M3', 312, 713, 338, 735, '#0000ff', '#fff', 18);
txt('Rimbp2', 327, 740, { size: 7, bold: true, anchor: 'center', color: '#222' });
chip('M4', 312, 822, 338, 845, '#000000', '#fff', 18);
txt('Atp5j2', 327, 850, { size: 7, bold: true, anchor: 'center', color: '#222' });

const miniX = { min: -16, max: 16, at: [] }, miniY = { min: -17.9, max: 14.9, at: [] };
const none = { l: 0, r: 0, t: 0, b: 0 };
const miniRadii = [1.7, 3.4, 3.6, 2.6, 2.6, 2.2, 1.2, 2.4];
umap([34, 678, 120, 766], miniX, miniY, rspo2Colors, miniRadii, false, none);
umap([35, 785, 121, 873], miniX, miniY, maml3Colors, miniRadii, false, none);
umap([342, 678, 428, 766], miniX, miniY, rimbp2Colors, miniRadii, false, none);
umap([342, 789, 428, 877], miniX, miniY, atp5j2Colors, miniRadii, false, none);
const scaleLabels = y0 => [['1.5', y0], ['1.0', y0 + 10.3], ['0.5', y0 + 20.7], ['0.0', y0 + 31]];
colorbar(126, 708, 131, 739, [[0, '#bebebe'], [1.5, '#40e0d0']], scaleLabels(708), 4.4, 134);
colorbar(127, 814, 133, 846, [[0, '#bebebe'], [1.5, '#ee22ee']], scaleLabels(815), 4.4, 135);
colorbar(434, 708, 440, 739, [[0, '#bebebe'], [1.5, '#3020ee']], scaleLabels(708), 4.4, 443);
colorbar(434, 818, 440, 849, [[0, '#bebebe'], [1.5, '#000000']], scaleLabels(818), 4.4, 443);

[['Glut', 177, 211, '#F8766D'], ['L2/3', 218, 253, '#FFB347'], ['L4/5', 261, 296, '#7CAE00'], ['Glut', 483, 518, '#F8766D'], ['L2/3', 526, 560, '#FFB347'], ['L4/5', 568, 603, '#7CAE00']]
  .forEach(c => chip(c[0], c[1], 664, c[2], 680, c[3], '#000', 11.4, true));

const leftX = [[174, 213], [218, 257], [260, 299]];
const rightX = [[482, 522], [525, 564], [568, 606]];
const rspo2 = [rspo2Glut, rspo2L23, rspo2L45], maml3 = [maml3Glut, maml3L23, maml3L45];
const rimbp2 = [rimbp2Glut, rimbp2L23, rimbp2L45], atp5j2 = [atp5j2Glut, atp5j2L23, atp5j2L45];
leftX.forEach((c, i) => {
  pairPanel([c[0], 686, c[1], 783], rspo2[i], .0017, .125, [.025, .05, .075, .1, .125], 3, { left: i === 0, box: '#222' });
  pairPanel([c[0], 787, c[1], 883], maml3[i], .169, .46, [.2, .3, .4], 1, { left: i === 0, bottom: true, box: '#333' });
});
rightX.forEach((c, i) => {
  pairPanel([c[0], 686, c[1], 784], rimbp2[i], .3035, .425, [.325, .35, .375, .4, .425], 3, { left: i === 0, box: i === 2 ? '#222' : null });
  pairPanel([c[0], 786, c[1], 882], atp5j2[i], 0, .1043, [.025, .05, .075, .1], 3, { left: i === 0, bottom: true, box: i === 1 ? '#333' : null });
});
txt('condition', 238, 897, { size: 7.8, bold: true, anchor: 'center', color: '#222' });
txt('condition', 545, 897, { size: 7.8, bold: true, anchor: 'center', color: '#222' });

// legends on the right
txt('sex', 616, 701, { size: 9, bold: true, color: '#222' });
function mark(x, y, color, male, size) {
  const d = document.createElement('div');
  d.style.position = 'absolute';
  if (male) {
    Object.assign(d.style, { left: (x - size / 2) + 'px', top: (y - size / 2) + 'px', width: 0, height: 0, borderLeft: (size / 2) + 'px solid transparent', borderRight: (size / 2) + 'px solid transparent', borderBottom: size + 'px solid ' + color });
  } else {
    Object.assign(d.style, { left: (x - size / 2) + 'px', top: (y - size / 2) + 'px', width: size + 'px', height: size + 'px', borderRadius: '50%', background: color });
  }
  fig.appendChild(d);
}
mark(621, 713, '#000', false, 6.5);
txt('female', 628, 713, { size: 5.4, color: '#333' });
mark(621, 722, '#000', true, 7);
txt('male', 628, 722, { size: 5.4, color: '#333' });
txt('gen_batch', 616, 742, { size: 9, bold: true, color: '#222' });
const legendY = [754, 763.3, 772.7, 782, 791.3, 800.7, 809.3, 818.7, 828, 837.3];
const legendBg = document.createElement('div');
Object.assign(legendBg.style, { position: 'absolute', left: '616px', top: '749px', width: '10px', height: '93px', background: '#f2f2f2' });
fig.appendChild(legendBg);
batchNames.forEach((b, i) => {
  mark(621, legendY[i], batchColors[i], false, 6.5);
  txt(b, 628, legendY[i], { size: 5.4, color: '#333' });
});
</script>
</body>
</html>
